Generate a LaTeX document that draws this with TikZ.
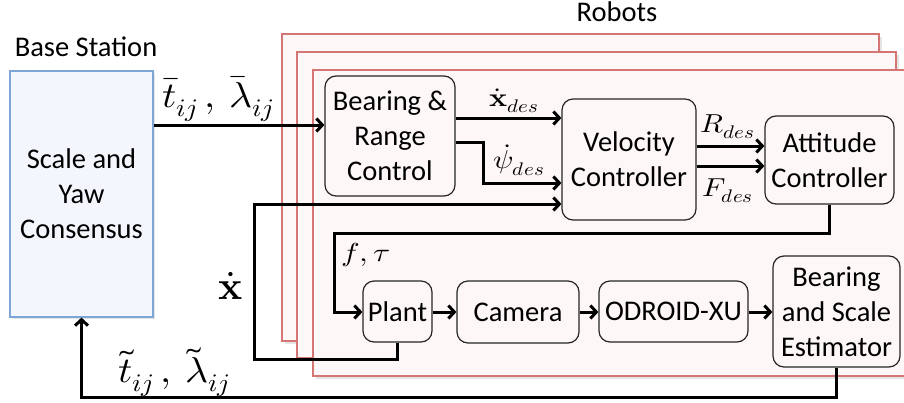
\documentclass[tikz,border=0pt]{standalone}
\usepackage{amsmath}
\usepackage{fontspec}
\usepackage{unicode-math}
\setmainfont{Carlito}
\setmathfont{Latin Modern Math}
\usetikzlibrary{arrows.meta}
\definecolor{framered}{RGB}{214,118,116}
\definecolor{framefill}{RGB}{253,247,247}
\definecolor{baseblue}{RGB}{125,166,214}
\definecolor{basefill}{RGB}{243,247,253}
\newcommand{\xs}[2]{\scalebox{#1}[1]{$#2$}}
\begin{document}
\begin{tikzpicture}[x=1pt,y=-1pt,
  txt/.style={font=\fontsize{28.5}{35}\selectfont},
  blk/.style={draw=black!85, line width=1.2pt, rounded corners=11pt, align=center,
    inner sep=0pt, font=\fontsize{28.5}{35}\selectfont},
  frm/.style={draw=framered, line width=1.4pt, fill=framefill},
  shd/.style={fill=black!10},
  wire/.style={line width=3pt, -{Straight Barb[length=6pt,width=13pt]}},
  bigm/.style={inner sep=0pt, font=\fontsize{36}{36}\selectfont},
  smm/.style={inner sep=0pt, font=\fontsize{26}{26}\selectfont}]
\useasboundingbox (0,0) rectangle (904,402);

% robot frames
\fill[shd] (285,37) rectangle (882,344);
\draw[frm] (282,34) rectangle (879,341);
\fill[shd] (300,55) rectangle (899,361);
\draw[frm] (297,52) rectangle (896,358);
\fill[shd] (316,73) rectangle (912,379);
\draw[frm] (313,70) rectangle (910,376);

% base station
\fill[shd] (12,73) rectangle (155,319);
\node[draw=baseblue, line width=1.2pt, fill=basefill, minimum width=143pt, minimum height=246pt,
  align=center, inner sep=0pt, font=\fontsize{28.5}{35}\selectfont] (bs) at (81.5,194) {Scale and\\Yaw\\Consensus};
\node[txt] (bslabel) at (86,47) {Base Station};
\node[txt] (rlabel) at (617,12) {Robots};

% blocks
\node[blk, minimum width=130pt, minimum height=120pt] (brc) at (390,136) {Bearing \&\\Range\\Control};
\node[blk, minimum width=134pt, minimum height=121pt] (vc) at (629,159.5) {Velocity\\Controller};
\node[blk, minimum width=129pt, minimum height=88pt] (ac) at (829.5,160) {Attitude\\Controller};
\node[blk, minimum width=69pt, minimum height=61pt] (plant) at (397.5,311.5) {Plant};
\node[blk, minimum width=122pt, minimum height=62pt] (cam) at (518,312) {Camera};
\node[blk, minimum width=149pt, minimum height=61pt] (od) at (673.5,311.5) {ODROID-XU};
\node[blk, minimum width=127pt, minimum height=111pt] (est) at (836.5,311.5) {Bearing\\and Scale\\Estimator};

% connectors
\draw[wire] (bs.east |- 0,125) -- (brc.west |- 0,125);
\draw[wire] (brc.east |- 0,118) -- (vc.west |- 0,118);
\draw[wire] (brc.east |- 0,142) -- (483,142) -- (483,183) -- (vc.west |- 0,183);
\draw[wire] (plant.south) -- (plant.south |- 0,359) -- (254,359) -- (254,204) -- (vc.west |- 0,204);
\draw[wire] (vc.east |- 0,146) -- (ac.west |- 0,146);
\draw[wire] (vc.east |- 0,166) -- (ac.west |- 0,166);
\draw[wire] (ac.south) -- (ac.south |- 0,233) -- (334,233) -- (334,312) -- (plant.west |- 0,312);
\draw[wire] (plant.east |- 0,312) -- (cam.west |- 0,312);
\draw[wire] (cam.east |- 0,312) -- (od.west |- 0,312);
\draw[wire] (od.east |- 0,312) -- (est.west |- 0,312);
\draw[wire] (est.south) -- (est.south |- 0,397) -- (bs.south |- 0,397) -- (bs.south);

% labels
\node[bigm] (lbar) at (218,99) {\xs{1.1}{\bar{t}_{ij}\,,\,\bar{\lambda}_{ij}}};
\node[smm] (lxd) at (514,101) {\xs{1.15}{\dot{\symbf{x}}_{des}}};
\node[smm] (lpsi) at (519,160) {\xs{1.15}{\dot{\psi}_{des}}};
\node[smm] (lR) at (728,127) {\xs{1.15}{R_{des}}};
\node[smm] (lF) at (728,191) {\xs{1.15}{F_{des}}};
\node[smm] (lft) at (366,255) {\xs{1.2}{f,\tau}};
\node[font=\fontsize{40}{40}\selectfont, inner sep=0pt] (lx) at (231,286) {$\dot{\symbf{x}}$};
\node[bigm] (ltil) at (174,372) {\xs{1.1}{\tilde{t}_{ij}\,,\,\tilde{\lambda}_{ij}}};
\end{tikzpicture}
\end{document}
